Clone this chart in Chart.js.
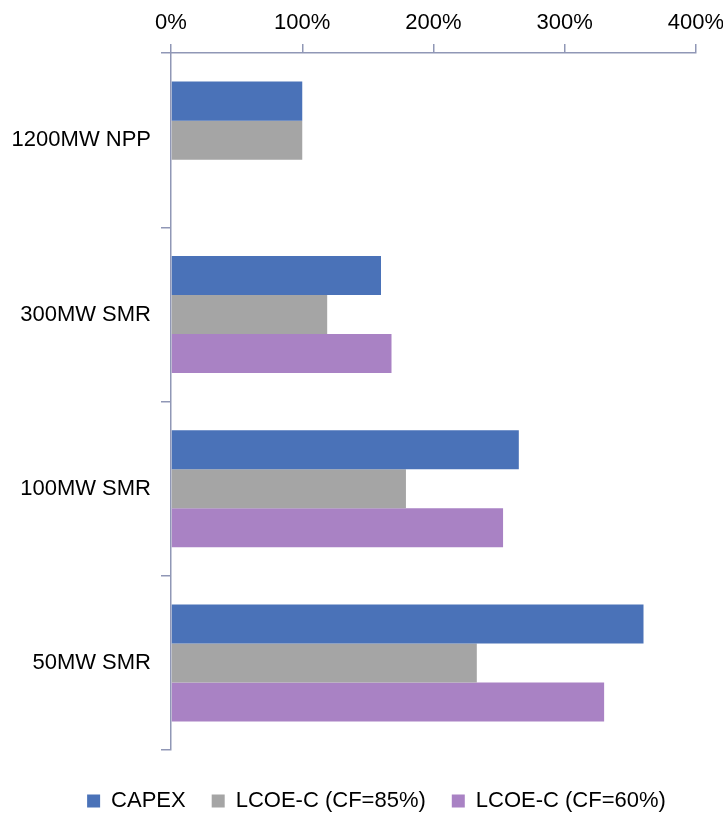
<!DOCTYPE html>
<html>
<head>
<meta charset="utf-8">
<script src="https://cdn.jsdelivr.net/npm/chart.js@4"></script>
<style>
  html, body { margin: 0; padding: 0; background: #fff; }
  #wrap { width: 723px; height: 819px; }
</style>
</head>
<body>
<div id="wrap"><canvas id="chart"></canvas></div>
<script>
// values as % of the 1200MW NPP reference
const categories = ['1200MW NPP', '300MW SMR', '100MW SMR', '50MW SMR'];
const capex = [100, 160, 265, 360];
const lcoe85 = [100, 119, 179, 233];
const lcoe60 = [null, 168, 253, 330];
const xTicks = [0, 100, 200, 300, 400];

const axisColor = '#9097b6';
const font = { family: "'Liberation Sans', Arial, sans-serif", size: 22 };

// nudge the legend a bit right, like the original
const legendShift = {
    id: 'legendShift',
    afterLayout(chart) {
        chart.legend.left += 14;
        chart.legend.right += 14;
    }
};

let ctx = document.getElementById('chart').getContext('2d');
let chart = new Chart(ctx, {
    type: 'bar',
    data: {
        labels: categories,
        datasets: [
            { label: 'CAPEX', data: capex, backgroundColor: '#4a72b8' },
            { label: 'LCOE-C (CF=85%)', data: lcoe85, backgroundColor: '#a5a5a5' },
            { label: 'LCOE-C (CF=60%)', data: lcoe60, backgroundColor: '#a982c4' }
        ]
    },
    options: {
        indexAxis: 'y',
        responsive: true,
        maintainAspectRatio: false,
        animation: false,
        layout: { padding: { top: 6, right: 2, left: 4, bottom: -3 } },
        datasets: {
            bar: { barPercentage: 1, categoryPercentage: 0.672, borderWidth: 0 }
        },
        scales: {
            x: {
                position: 'top',
                min: 0,
                max: 400,
                afterBuildTicks: axis => { axis.ticks = xTicks.map(v => ({ value: v })); },
                afterFit: axis => { axis.height = 47; axis.paddingRight = 27; },
                ticks: { color: '#000', font: font, padding: 8, maxRotation: 0, callback: v => v + '%' },
                grid: { drawOnChartArea: false, color: axisColor, tickLength: 9, lineWidth: 1.5 },
                border: { color: axisColor, width: 1.5 }
            },
            y: {
                afterFit: axis => { axis.width = 167; },
                ticks: { color: '#000', font: font, padding: 10 },
                grid: { drawOnChartArea: false, color: axisColor, tickLength: 10, lineWidth: 1.5 },
                border: { color: axisColor, width: 1.5 }
            }
        },
        plugins: {
            legend: {
                position: 'bottom',
                title: { display: true, text: ' ', font: { size: 9 }, padding: { top: 0, bottom: 3 } },
                labels: { color: '#000', font: font, boxWidth: 13, boxHeight: 13, padding: 26 }
            },
            tooltip: { enabled: false }
        }
    },
    plugins: [legendShift]
});
</script>
</body>
</html>
